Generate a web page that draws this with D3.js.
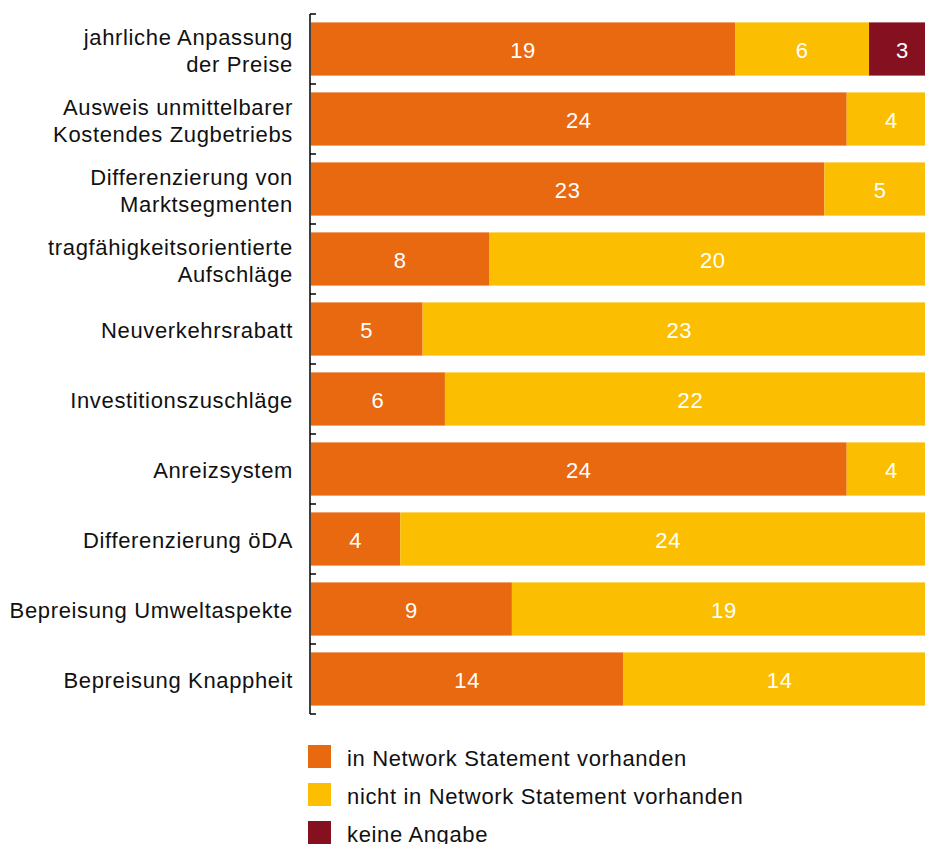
<!DOCTYPE html>
<html>
<head>
<meta charset="utf-8">
<script src="https://cdn.jsdelivr.net/npm/d3@7"></script>
<style>
  body { margin: 0; background: #fff; }
  svg { display: block; font-family: "Liberation Sans", Arial, Helvetica, sans-serif; }
</style>
</head>
<body>
<div id="chart"></div>
<script>
'use strict';

const categories = [
    ['jahrliche Anpassung', 'der Preise'],
    ['Ausweis unmittelbarer', 'Kostendes Zugbetriebs'],
    ['Differenzierung von', 'Marktsegmenten'],
    ['tragfähigkeitsorientierte', 'Aufschläge'],
    ['Neuverkehrsrabatt'],
    ['Investitionszuschläge'],
    ['Anreizsystem'],
    ['Differenzierung öDA'],
    ['Bepreisung Umweltaspekte'],
    ['Bepreisung Knappheit']
];
const seriesNames = [
    'in Network Statement vorhanden',
    'nicht in Network Statement vorhanden',
    'keine Angabe'
];
const vorhanden = [19, 24, 23, 8, 5, 6, 24, 4, 9, 14];
const nichtVorhanden = [6, 4, 5, 20, 23, 22, 4, 24, 19, 14];
const keineAngabe = [3, 0, 0, 0, 0, 0, 0, 0, 0, 0];
const colours = ['#e8690f', '#fbbe00', '#85101f'];

function drawChart() {
    const width = 925;
    const height = 844;
    const fontSize = 22;
    const spacing = '0.65px';

    const svg = d3.select('#chart')
        .append('svg')
        .attr('width', width)
        .attr('height', height);

    const rows = categories.map(function (c, i) {
        return {
            key: i,
            label: c,
            values: [vorhanden[i], nichtVorhanden[i], keineAngabe[i]]
        };
    });

    const yScale = d3.scaleBand()
        .domain(rows.map(function (d) { return d.key; }))
        .range([14, 714])
        .paddingInner(0.24)
        .paddingOuter(0.12);

    const xScale = d3.scaleLinear()
        .domain([0, 28])
        .range([311, 936]);

    // stacked segments
    const segments = [];
    rows.forEach(function (r) {
        let acc = 0;
        r.values.forEach(function (v, s) {
            if (v > 0) {
                segments.push({ row: r.key, series: s, x0: acc, x1: acc + v, value: v });
            }
            acc += v;
        });
    });

    svg.selectAll('rect.seg')
        .data(segments)
        .join('rect')
        .attr('class', 'seg')
        .attr('x', function (d) { return xScale(d.x0); })
        .attr('width', function (d) { return xScale(d.x1) - xScale(d.x0); })
        .attr('y', function (d) { return yScale(d.row); })
        .attr('height', yScale.bandwidth())
        .attr('fill', function (d) { return colours[d.series]; });

    svg.selectAll('text.val')
        .data(segments)
        .join('text')
        .attr('class', 'val')
        .attr('x', function (d) { return (xScale(d.x0) + xScale(d.x1)) / 2; })
        .attr('y', function (d) { return yScale(d.row) + yScale.bandwidth() / 2 + 9; })
        .attr('text-anchor', 'middle')
        .attr('font-size', fontSize)
        .attr('letter-spacing', spacing)
        .attr('fill', '#fff')
        .text(function (d) { return d.value; });

    // axis: line with ticks at band boundaries, pointing inward
    const axisX = 310;
    const boundaries = d3.range(categories.length + 1).map(function (i) {
        return 14 + i * yScale.step();
    });
    svg.append('line')
        .attr('x1', axisX).attr('x2', axisX)
        .attr('y1', boundaries[0]).attr('y2', boundaries[boundaries.length - 1])
        .attr('stroke', '#000')
        .attr('stroke-width', 1.5);
    svg.selectAll('line.tick')
        .data(boundaries)
        .join('line')
        .attr('class', 'tick')
        .attr('x1', axisX).attr('x2', axisX + 6)
        .attr('y1', function (d) { return d; })
        .attr('y2', function (d) { return d; })
        .attr('stroke', '#000')
        .attr('stroke-width', 1.5);

    // category labels
    const labels = svg.selectAll('text.cat')
        .data(rows)
        .join('text')
        .attr('class', 'cat')
        .attr('text-anchor', 'end')
        .attr('font-size', fontSize)
        .attr('letter-spacing', spacing)
        .attr('fill', '#111');

    labels.selectAll('tspan')
        .data(function (d) {
            const mid = yScale(d.key) + yScale.bandwidth() / 2 + 9;
            return d.label.map(function (t, i) {
                return { t: t, y: mid + (i - (d.label.length - 1) / 2) * 27 };
            });
        })
        .join('tspan')
        .attr('x', 293)
        .attr('y', function (d) { return d.y; })
        .text(function (d) { return d.t; });

    // legend
    const legend = svg.append('g');
    const legendItems = legend.selectAll('g')
        .data(seriesNames)
        .join('g')
        .attr('transform', function (d, i) { return `translate(308,${745 + i * 38})`; });
    legendItems.append('rect')
        .attr('width', 23)
        .attr('height', 23)
        .attr('fill', function (d, i) { return colours[i]; });
    legendItems.append('text')
        .attr('x', 39)
        .attr('y', 21)
        .attr('font-size', fontSize)
        .attr('letter-spacing', spacing)
        .attr('fill', '#111')
        .text(function (d) { return d; });
}

drawChart();
</script>
</body>
</html>
